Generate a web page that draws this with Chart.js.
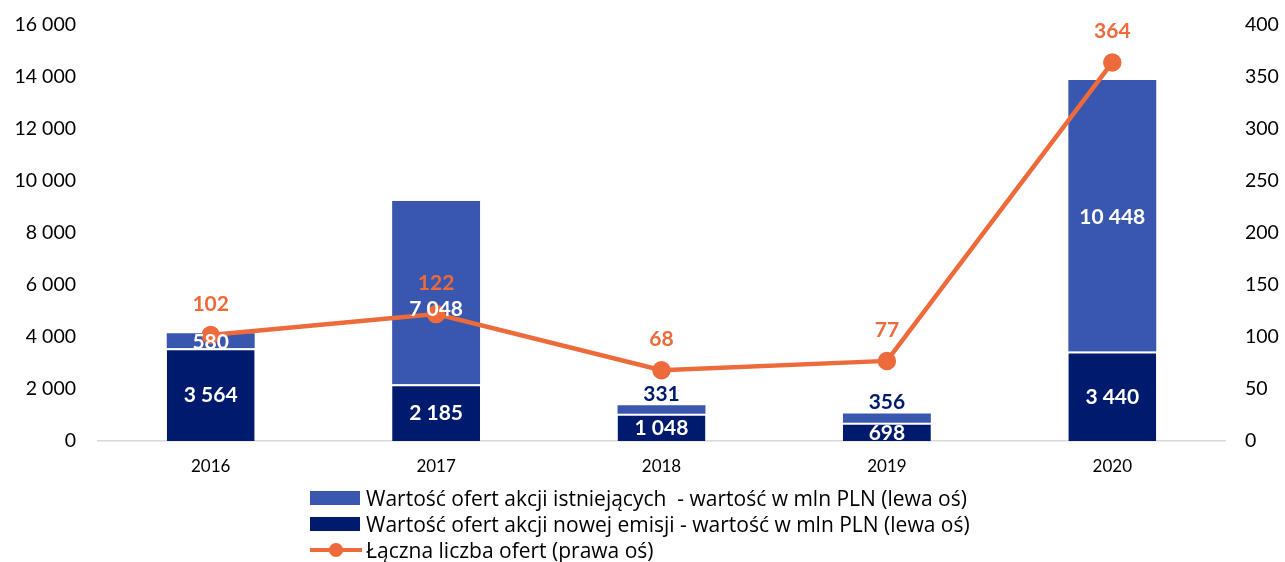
<!DOCTYPE html>
<html>
<head>
<meta charset="utf-8">
<script src="https://cdn.jsdelivr.net/npm/chart.js@4"></script>
<style>
  html, body { margin: 0; padding: 0; background: #fff; }
  #wrap { position: relative; width: 1285px; height: 562px; }
  #legend { position: absolute; left: 310px; top: 485px; font-family: "Open Sans", sans-serif; font-size: 21px; color: #000; white-space: pre; }
  .row { display: flex; align-items: center; height: 26px; }
  .box { width: 50px; height: 14px; margin-right: 6px; }
  .line { position: relative; width: 52px; height: 4px; margin-right: 4px; }
  .dot { position: absolute; left: 19px; top: -5px; width: 14px; height: 14px; border-radius: 50%; }
</style>
</head>
<body>
<div id="wrap">
  <canvas id="chart" width="1285" height="562"></canvas>
  <div id="legend"></div>
</div>
<script>
// Data
const years = ['2016', '2017', '2018', '2019', '2020'];
const newIssueValues = [3564, 2185, 1048, 698, 3440];
const existingValues = [580, 7048, 331, 356, 10448];
const offerCounts = [102, 122, 68, 77, 364];

// Colors
const COLORS = {
    existing: '#3A57AF',
    newIssue: '#001A6E',
    offers: '#ED6A3A',
    axis: '#D9D9D9',
    text: '#000000'
};

const FONT = 'Lato, sans-serif';

function fmt(v) {
    return String(v).replace(/\B(?=(\d{3})+(?!\d))/g, ' ');
}

// Draws value labels on bars and line points
const valueLabels = {
    id: 'valueLabels',
    afterDatasetsDraw(chart) {
        const ctx = chart.ctx;
        ctx.save();
        ctx.font = 'bold 21px ' + FONT;
        ctx.textAlign = 'center';
        ctx.textBaseline = 'middle';
        // line labels first, remember their y to keep bar labels clear of them
        const lineY = {};
        chart.data.datasets.forEach((ds, i) => {
            if (ds.type !== 'line') return;
            chart.getDatasetMeta(i).data.forEach((el, j) => {
                const y = el.y - 31;
                lineY[j] = y;
                ctx.fillStyle = COLORS.offers;
                ctx.fillText(fmt(ds.data[j]), el.x, y);
            });
        });
        chart.data.datasets.forEach((ds, i) => {
            if (ds.type === 'line') return;
            chart.getDatasetMeta(i).data.forEach((el, j) => {
                const v = ds.data[j];
                const h = Math.abs(el.base - el.y);
                if (h < 12) {
                    ctx.fillStyle = COLORS.newIssue;
                    ctx.fillText(fmt(v), el.x, el.y - 11);
                } else {
                    let y = (el.y + el.base) / 2 + 1;
                    if (lineY[j] !== undefined && Math.abs(y - lineY[j]) < 24) {
                        y = lineY[j] + 26;
                    }
                    ctx.fillStyle = '#FFFFFF';
                    ctx.fillText(fmt(v), el.x, y);
                }
            });
        });
        ctx.restore();
    }
};

// keep value axes from adding their own label overflow padding
function fixAxis(width) {
    return (axis) => {
        axis.width = width;
        axis.paddingTop = 0;
        axis.paddingBottom = 0;
    };
}

const chart = new Chart(document.getElementById('chart'), {
    data: {
        labels: years,
        datasets: [
            {
                type: 'line',
                label: 'Łączna liczba ofert (prawa oś)',
                data: offerCounts,
                yAxisID: 'y1',
                borderColor: COLORS.offers,
                backgroundColor: COLORS.offers,
                borderWidth: 4.5,
                pointRadius: 7,
                pointHoverRadius: 7,
                tension: 0,
                order: 0
            },
            {
                type: 'bar',
                label: 'Wartość ofert akcji nowej emisji - wartość w mln PLN (lewa oś)',
                data: newIssueValues,
                yAxisID: 'y',
                stack: 'v',
                backgroundColor: COLORS.newIssue,
                borderColor: '#FFFFFF',
                borderWidth: { top: 2, left: 0, right: 0, bottom: 0 },
                borderSkipped: false,
                categoryPercentage: 1,
                barPercentage: 0.39,
                order: 1
            },
            {
                type: 'bar',
                label: 'Wartość ofert akcji istniejących  - wartość w mln PLN (lewa oś)',
                data: existingValues,
                yAxisID: 'y',
                stack: 'v',
                backgroundColor: COLORS.existing,
                borderWidth: 0,
                categoryPercentage: 1,
                barPercentage: 0.39,
                order: 1
            }
        ]
    },
    options: {
        responsive: false,
        animation: false,
        layout: { padding: { top: 25, bottom: 80, left: 0, right: 0 } },
        plugins: {
            legend: { display: false },
            tooltip: { enabled: false }
        },
        scales: {
            x: {
                stacked: true,
                grid: { display: false, drawTicks: false },
                border: { display: true, color: COLORS.axis, width: 1.5 },
                ticks: { color: COLORS.text, font: { family: FONT, size: 17 }, padding: 15 },
                afterFit(axis) { axis.height = 41; }
            },
            y: {
                stacked: true,
                position: 'left',
                min: 0,
                max: 16000,
                grid: { display: false, drawTicks: false },
                border: { display: false },
                ticks: {
                    stepSize: 2000,
                    color: COLORS.text,
                    font: { family: FONT, size: 19.5 },
                    padding: 22,
                    callback: (v) => fmt(v)
                },
                afterFit: fixAxis(98)
            },
            y1: {
                position: 'right',
                min: 0,
                max: 400,
                grid: { display: false, drawTicks: false },
                border: { display: false },
                ticks: {
                    stepSize: 50,
                    color: COLORS.text,
                    font: { family: FONT, size: 19.5 },
                    padding: 20
                },
                afterFit: fixAxis(60)
            }
        }
    },
    plugins: [valueLabels]
});

// HTML legend (three stacked rows)
const legendOrder = [2, 1, 0];
const legendEl = document.getElementById('legend');
legendOrder.forEach((i) => {
    const ds = chart.data.datasets[i];
    const row = document.createElement('div');
    row.className = 'row';
    let mark;
    if (ds.type === 'line') {
        mark = document.createElement('div');
        mark.className = 'line';
        mark.style.background = ds.borderColor;
        const dot = document.createElement('div');
        dot.className = 'dot';
        dot.style.background = ds.borderColor;
        mark.appendChild(dot);
    } else {
        mark = document.createElement('div');
        mark.className = 'box';
        mark.style.background = ds.backgroundColor;
    }
    const txt = document.createElement('span');
    txt.textContent = ds.label;
    row.appendChild(mark);
    row.appendChild(txt);
    legendEl.appendChild(row);
});
</script>
</body>
</html>
